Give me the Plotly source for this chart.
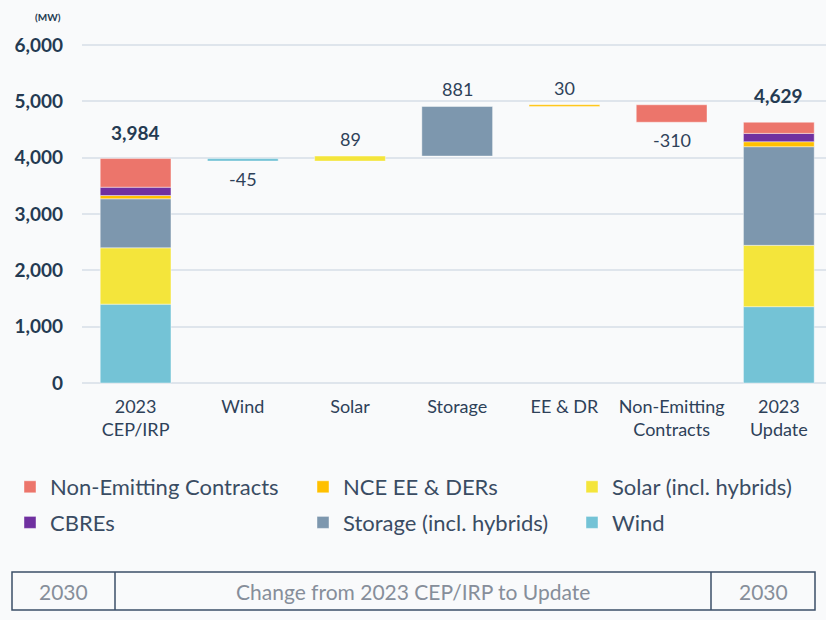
import plotly.graph_objects as go
import numpy as np

# ---------------- data ----------------
categories = ["2023<br>CEP/IRP", "Wind", "Solar", "Storage", "EE & DR",
              "Non-Emitting<br>Contracts", "2023<br>Update"]
series_names = ["Wind", "Solar (incl. hybrids)", "Storage (incl. hybrids)",
                "NCE EE & DERs", "CBREs", "Non-Emitting Contracts"]
series_colors = ["#74C3D6", "#F4E53B", "#7D97AE", "#FFC000", "#7030A0", "#EC756B"]
cep_2023 = [1400, 1000, 870, 58, 148, 508]        # 2030 in 2023 CEP/IRP
update_2023 = [1355, 1089, 1751, 88, 148, 198]    # 2030 in 2023 Update
change_categories = ["Wind", "Solar", "Storage", "EE & DR", "Non-Emitting<br>Contracts"]
change_values = [-45, 89, 881, 30, -310]
change_series = [0, 1, 2, 3, 5]                   # colour index per change bar
y_ticks = [0, 1000, 2000, 3000, 4000, 5000, 6000]
table_labels = ["2030", "Change from 2023 CEP/IRP to Update", "2030"]

# legend layout: which legend column and rank each series goes in
legend_of = {"Non-Emitting Contracts": ("legend", 1), "CBREs": ("legend", 2),
             "NCE EE & DERs": ("legend2", 1), "Storage (incl. hybrids)": ("legend2", 2),
             "Solar (incl. hybrids)": ("legend3", 1), "Wind": ("legend3", 2)}

# ---------------- geometry helpers ----------------
L, R, T, B = 82, 0, 44, 236
W, H = 826, 620
PW, PH = W - L - R, H - T - B


def px_x(px):
    return (px - L) / PW


def px_y(py):
    return (H - B - py) / PH


NAVY = "#243A52"
TEXT = "#2E4159"
FONT = "Lato"

fig = go.Figure()

cep_base = np.concatenate([[0], np.cumsum(cep_2023)[:-1]])
upd_base = np.concatenate([[0], np.cumsum(update_2023)[:-1]])

for i, name in enumerate(series_names):
    lg, rank = legend_of[name]
    fig.add_trace(go.Bar(
        x=[categories[0], categories[-1]],
        y=[cep_2023[i], update_2023[i]],
        base=[cep_base[i], upd_base[i]],
        name=name,
        marker=dict(color=series_colors[i], line=dict(width=0.6, color="rgba(255,255,255,0.7)")),
        width=0.66,
        legend=lg, legendrank=rank, legendgroup=name,
        hoverinfo="skip",
    ))

# floating change bars
start_total = float(np.sum(cep_2023))
cum = start_total + np.concatenate([[0], np.cumsum(change_values)[:-1]])
fig.add_trace(go.Bar(
    x=change_categories,
    y=change_values,
    base=cum,
    marker=dict(color=[series_colors[k] for k in change_series],
                line=dict(width=0.6, color="rgba(255,255,255,0.7)")),
    width=0.66,
    showlegend=False,
    hoverinfo="skip",
))

annotations = []
# totals
totals = [int(np.sum(cep_2023)), int(np.sum(update_2023))]
for cat, tot in zip([categories[0], categories[-1]], totals):
    annotations.append(dict(x=cat, y=tot, xref="x", yref="y", text=f"<b>{tot:,}</b>",
                            showarrow=False, xanchor="center", yanchor="bottom", yshift=13,
                            font=dict(family=FONT, size=19, color=NAVY)))
# change labels
for cat, base, val in zip(change_categories, cum, change_values):
    if val >= 0:
        annotations.append(dict(x=cat, y=base + val, xref="x", yref="y", text=f"{val:,}",
                                showarrow=False, xanchor="center", yanchor="bottom", yshift=4,
                                font=dict(family=FONT, size=18, color=TEXT)))
    else:
        annotations.append(dict(x=cat, y=base + val, xref="x", yref="y", text=f"{val:,}",
                                showarrow=False, xanchor="center", yanchor="top", yshift=-5,
                                font=dict(family=FONT, size=18, color=TEXT)))
# unit label
annotations.append(dict(x=px_x(48), y=px_y(17), xref="paper", yref="paper", text="<b>(MW)</b>",
                        showarrow=False, xanchor="center", yanchor="middle",
                        font=dict(family=FONT, size=10, color=NAVY)))

# bottom table
shapes = []
tx0, tx1, ty0, ty1 = 12, 815, 572, 610
dividers = [115, 711]
line_c = "#3B4F68"
shapes.append(dict(type="rect", xref="paper", yref="paper",
                   x0=px_x(tx0), x1=px_x(tx1), y0=px_y(ty1), y1=px_y(ty0),
                   line=dict(color=line_c, width=1.5)))
for d in dividers:
    shapes.append(dict(type="line", xref="paper", yref="paper",
                       x0=px_x(d), x1=px_x(d), y0=px_y(ty1), y1=px_y(ty0),
                       line=dict(color=line_c, width=1.5)))
edges = [tx0] + dividers + [tx1]
for j, lab in enumerate(table_labels):
    cx = (edges[j] + edges[j + 1]) / 2
    annotations.append(dict(x=px_x(cx), y=px_y((ty0 + ty1) / 2), xref="paper", yref="paper",
                            text=lab, showarrow=False, xanchor="center", yanchor="middle",
                            font=dict(family=FONT, size=21, color="#868E9A")))

legend_common = dict(orientation="v", yanchor="top", xanchor="left",
                     font=dict(family=FONT, size=22, color="#3A4C63"),
                     bgcolor="rgba(0,0,0,0)", tracegroupgap=4, itemclick=False)

fig.update_layout(
    width=W, height=H,
    margin=dict(l=L, r=R, t=T, b=B),
    paper_bgcolor="#F9FAFB", plot_bgcolor="#F9FAFB",
    barmode="overlay",
    font=dict(family=FONT, color=TEXT),
    xaxis=dict(categoryorder="array", categoryarray=categories, range=[-0.5, 6.44],
               showgrid=False, showline=False, ticks="", ticklabelstandoff=10,
               tickfont=dict(family=FONT, size=18, color=TEXT)),
    yaxis=dict(range=[-18, 6018], tickvals=y_ticks, ticktext=[f"{v:,}" for v in y_ticks],
               showgrid=True, gridcolor="#DFE5EC", gridwidth=2, zeroline=False,
               showline=False, ticks="", ticklabelstandoff=18,
               tickfont=dict(family=FONT, size=19, color=NAVY, weight="bold")),
    legend=dict(x=px_x(10), y=px_y(466), **legend_common),
    legend2=dict(x=px_x(303), y=px_y(466), **legend_common),
    legend3=dict(x=px_x(572), y=px_y(466), **legend_common),
    annotations=annotations,
    shapes=shapes,
    showlegend=True,
)

fig.write_html("out.html", config={"displayModeBar": False},
               post_script="document.body.style.margin='0';document.body.style.overflow='hidden';")
